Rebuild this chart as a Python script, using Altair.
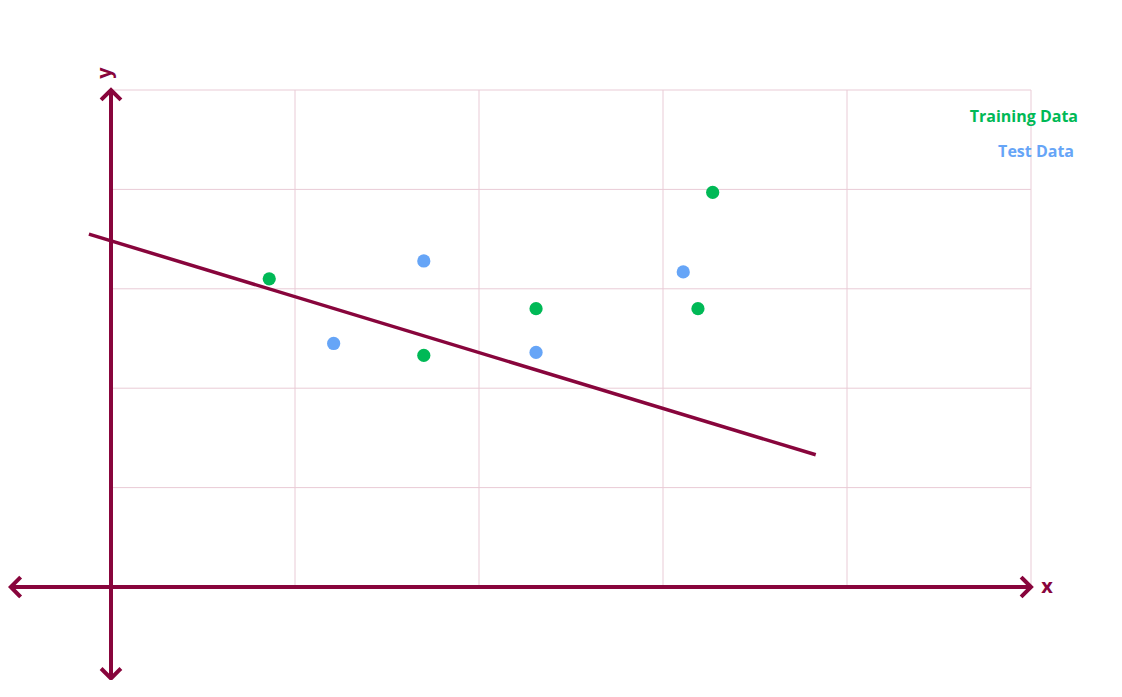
import altair as alt
import pandas as pd

# ---- data ----
train_x = [0.86, 1.70, 2.31, 3.19, 3.27]
train_y = [3.10, 2.33, 2.80, 2.80, 3.97]
test_x = [1.21, 1.70, 2.31, 3.11]
test_y = [2.45, 3.28, 2.36, 3.17]
fit_x = [-0.12, 3.83]
fit_y = [3.55, 1.33]
grid_ticks = [1, 2, 3, 4, 5]
axis_max = 5.0
x_axis_min = -0.545
y_axis_min = -0.92
legend_labels = ["Training Data", "Test Data"]

CRIMSON = "#88053c"
GREEN = "#00b956"
BLUE = "#66a5f7"
GRID = "#e9cbd6"

xs = alt.Scale(domain=[-103 / 184, (1100 - 103) / 184], nice=False, zero=False)
ys = alt.Scale(domain=[-(672 - 579) / 99.4, 579 / 99.4], nice=False, zero=False)

# grid
vgrid = pd.DataFrame({"x": grid_ticks, "y": [0] * 5, "y2": [axis_max] * 5})
hgrid = pd.DataFrame({"y": grid_ticks, "x": [0] * 5, "x2": [axis_max] * 5})
vg = alt.Chart(vgrid).mark_rule(color=GRID, strokeWidth=1).encode(
    x=alt.X("x:Q", scale=xs, axis=None), y=alt.Y("y:Q", scale=ys, axis=None), y2="y2:Q")
hg = alt.Chart(hgrid).mark_rule(color=GRID, strokeWidth=1).encode(
    y=alt.Y("y:Q", scale=ys, axis=None), x=alt.X("x:Q", scale=xs, axis=None), x2="x2:Q")

# axes
axes_df = pd.DataFrame({
    "x": [x_axis_min, 0.0], "x2": [axis_max, 0.0],
    "y": [0.0, y_axis_min], "y2": [0.0, axis_max]})
ax = alt.Chart(axes_df).mark_rule(color=CRIMSON, strokeWidth=4).encode(
    x=alt.X("x:Q", scale=xs, axis=None), x2="x2:Q",
    y=alt.Y("y:Q", scale=ys, axis=None), y2="y2:Q")

arrows_df = pd.DataFrame({
    "x": [axis_max, x_axis_min, 0.0, 0.0],
    "y": [0.0, 0.0, axis_max, y_axis_min],
    "a": [90, 270, 0, 180]})
arr = alt.Chart(arrows_df).mark_point(
    shape="M-1,1L0,0L1,1", filled=False, stroke=CRIMSON, strokeWidth=4,
    size=289, opacity=1, strokeCap="square").encode(
    x=alt.X("x:Q", scale=xs, axis=None), y=alt.Y("y:Q", scale=ys, axis=None),
    angle=alt.Angle("a:Q", scale=None))

# regression line
fit_df = pd.DataFrame({"x": fit_x, "y": fit_y})
fit = alt.Chart(fit_df).mark_line(color=CRIMSON, strokeWidth=3.5).encode(
    x=alt.X("x:Q", scale=xs, axis=None), y=alt.Y("y:Q", scale=ys, axis=None))

# points
pts_df = pd.concat([
    pd.DataFrame({"x": train_x, "y": train_y, "s": "Training Data"}),
    pd.DataFrame({"x": test_x, "y": test_y, "s": "Test Data"})])
pts = alt.Chart(pts_df).mark_circle(size=175, opacity=1).encode(
    x=alt.X("x:Q", scale=xs, axis=None), y=alt.Y("y:Q", scale=ys, axis=None),
    color=alt.Color("s:N", scale=alt.Scale(domain=legend_labels, range=[GREEN, BLUE]), legend=None))

# axis labels
xlab = alt.Chart(pd.DataFrame({"t": ["x"]})).mark_text(
    font="Open Sans", fontWeight="bold", fontSize=20, color=CRIMSON,
    align="center", baseline="middle").encode(
    text="t:N", x=alt.value(1039), y=alt.value(579))
ylab = alt.Chart(pd.DataFrame({"t": ["y"]})).mark_text(
    font="Open Sans", fontWeight="bold", fontSize=20, color=CRIMSON,
    align="center", baseline="middle", angle=270).encode(
    text="t:N", x=alt.value(97), y=alt.value(65))

# legend text
leg1 = alt.Chart(pd.DataFrame({"t": [legend_labels[0]]})).mark_text(
    font="Open Sans", fontWeight="bold", fontSize=16, color=GREEN,
    align="right", baseline="middle").encode(
    text="t:N", x=alt.value(1070), y=alt.value(109))
leg2 = alt.Chart(pd.DataFrame({"t": [legend_labels[1]]})).mark_text(
    font="Open Sans", fontWeight="bold", fontSize=16, color=BLUE,
    align="right", baseline="middle").encode(
    text="t:N", x=alt.value(1066), y=alt.value(144))

chart = alt.layer(vg, hg, fit, pts, ax, arr, xlab, ylab, leg1, leg2).properties(
    width=1100, height=672,
    padding={"left": 0, "top": 0, "right": 0, "bottom": 0},
    autosize=alt.AutoSizeParams(type="none"),
    background="white",
).configure_view(stroke=None)

chart.save("out.html", embed_options={"renderer": "svg", "actions": False})
